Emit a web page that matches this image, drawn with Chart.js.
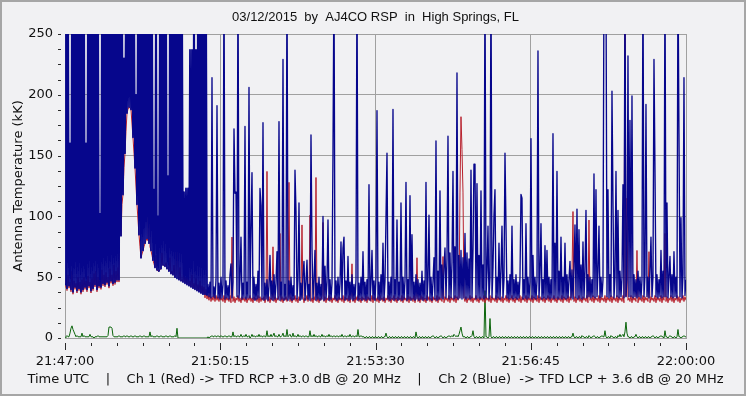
<!DOCTYPE html>
<html>
<head>
<meta charset="utf-8">
<script src="https://cdn.jsdelivr.net/npm/chart.js@4.4.1/dist/chart.umd.min.js"></script>
<style>
  html, body { margin: 0; padding: 0; background: #f1f1f3; }
  #wrap { width: 746px; height: 396px; position: relative; }
</style>
</head>
<body>
<div id="wrap"><canvas id="rsp"></canvas></div>
<script>
// AJ4CO RSP record, 03/12/2015, one reading every ~1.26 s starting 21:47:00

const SAMPLE_SEC = 1.256;
const timeTicks  = [0, 195, 390, 585, 780];   // seconds after 21:47:00
const tickLabels = ['21:47:00', '21:50:15', '21:53:30', '21:56:45', '22:00:00'];
const tempTicks  = [0, 50, 100, 150, 200, 250];

// Ch 2 (Blue) antenna temperature, kK (anything above 250 runs off the top)
const ch2Blue = [
  44,300,41,300,43,160,40,300,38,300,42,300,39,300,41,300,38,300,40,300,
  42,160,40,300,43,300,39,300,41,300,44,300,40,300,43,102,42,300,45,300,
  44,300,46,300,43,300,47,300,45,300,46,300,48,300,48,300,84,300,118,230,
  152,300,185,300,190,300,188,300,165,300,140,200,110,300,85,300,66,300,72,300,
  78,300,82,300,78,300,72,300,64,122,58,300,56,100,55,300,57,300,60,300,
  59,300,57,133,55,300,53,300,52,300,50,300,49,300,48,300,47,300,46,120,
  45,123,44,123,43,237,42,237,41,300,40,237,39,300,38,300,37,300,36,300,
  36,300,35,44,34,46,33,214,34,42,33,48,191,33,45,32,50,33,44,300,
  32,47,33,43,32,52,61,33,46,172,119,120,34,300,33,48,83,32,45,33,
  174,32,46,33,206,33,90,136,32,50,31,44,32,55,33,123,109,32,177,31,
  45,32,48,31,43,68,32,47,31,52,32,45,71,32,178,31,46,32,229,31,
  44,32,300,31,47,32,50,31,43,32,138,104,32,48,111,31,45,32,52,63,
  31,46,64,32,44,31,167,74,32,47,72,31,45,32,50,31,44,32,100,31,
  59,32,46,97,31,48,32,45,152,300,32,47,31,50,32,45,79,32,74,83,
  31,47,32,67,31,46,32,52,31,44,32,48,300,31,45,32,50,31,71,32,
  46,31,48,32,126,31,45,72,32,47,31,50,187,32,46,31,52,32,78,31,
  47,98,152,32,46,31,50,32,188,31,48,32,97,31,46,32,111,31,50,32,
  47,128,31,48,32,117,31,85,32,46,31,52,32,48,31,45,32,55,31,47,
  32,128,31,48,101,32,50,31,46,66,32,162,31,55,32,121,33,60,32,58,
  74,33,65,166,32,70,33,62,137,32,75,33,218,32,68,33,72,32,66,33,
  86,32,70,33,65,32,138,33,72,143,143,32,127,33,68,32,121,33,60,32,
  300,33,55,92,32,50,300,33,58,101,122,32,50,33,78,32,55,92,33,48,
  152,92,33,47,32,52,33,92,32,48,33,52,32,46,33,50,118,115,32,48,
  33,94,32,50,33,46,164,32,68,33,50,32,47,236,33,52,94,32,48,33,
  76,32,72,33,50,32,48,33,168,32,78,33,137,32,55,33,83,32,50,33,
  78,32,52,33,48,63,33,56,32,58,93,33,106,32,89,33,60,32,79,33,
  55,105,33,52,34,50,33,48,34,135,33,122,34,55,92,33,50,34,48,300,
  300,300,34,122,33,52,34,203,111,33,50,137,34,105,33,55,34,50,126,33,
  300,34,48,232,34,179,34,199,33,52,34,48,33,55,34,50,33,48,300,34,
  52,192,34,50,33,55,83,34,50,229,138,34,52,33,48,34,72,33,55,34,
  300,34,111,33,50,67,34,52,33,71,34,50,33,300,168,34,99,33,52,214,
  35,48
];

// Ch 1 (Red) antenna temperature, kK
const ch1Red = [
  42,48,39,52,41,46,38,55,36,47,40,45,37,50,39,46,36,48,38,50,
  40,47,38,51,41,46,37,49,39,53,42,55,38,50,41,47,40,56,43,52,
  42,54,44,50,41,57,45,52,43,60,44,55,46,58,46,236,84,110,118,140,
  152,170,185,188,190,189,188,176,165,152,140,125,110,97,85,75,66,69,72,75,
  78,80,82,80,300,75,72,68,64,61,58,68,56,55,55,56,57,70,60,60,
  59,62,57,58,55,66,53,55,52,60,50,52,250,50,48,58,47,48,46,55,
  45,50,44,56,43,47,42,52,41,45,40,49,39,44,38,47,37,43,36,42,
  33,40,32,36,31,37,30,34,31,36,30,35,31,34,30,36,31,33,30,35,
  29,34,31,33,30,35,29,83,30,34,29,33,31,35,30,33,29,34,31,33,
  30,34,29,33,31,35,30,33,29,34,31,33,30,35,29,34,30,33,31,34,
  29,33,137,30,34,29,33,31,75,30,34,29,33,31,35,86,30,34,29,33,
  31,34,30,33,128,30,34,29,33,31,35,30,33,29,34,31,33,93,34,29,
  33,31,35,30,34,101,30,33,29,34,31,132,30,34,29,33,31,35,95,30,
  34,29,33,31,35,30,34,29,33,31,35,30,33,29,34,31,33,30,35,29,
  34,31,33,30,35,29,34,61,30,33,29,34,31,35,30,33,29,34,31,33,
  30,35,29,34,31,33,30,35,29,34,31,33,30,34,29,35,31,33,30,34,
  29,33,31,35,30,34,29,33,31,35,30,33,29,34,31,33,30,35,29,34,
  31,33,30,35,29,34,31,33,30,35,29,34,66,30,33,29,35,31,34,30,
  33,29,35,31,34,30,33,29,34,31,33,30,35,29,34,31,33,30,67,29,
  34,31,33,30,35,29,34,31,33,30,35,29,34,31,33,120,182,155,120,33,
  30,34,29,33,31,35,30,34,29,33,31,35,30,33,29,34,31,33,30,35,
  29,34,31,33,30,35,29,34,31,33,30,35,29,34,31,33,30,34,29,33,
  31,35,30,34,29,33,31,35,30,33,29,34,31,33,30,35,29,34,31,33,
  30,35,29,34,31,33,30,35,29,34,31,33,30,35,29,34,31,33,30,34,
  29,33,31,35,30,34,29,33,31,35,30,33,29,34,31,33,30,35,29,34,
  31,33,30,35,29,34,31,52,104,30,34,29,33,31,35,30,33,29,34,31,
  33,30,35,29,97,31,33,30,35,29,34,31,33,30,35,29,34,31,33,30,
  35,29,34,31,33,30,35,29,34,31,33,30,35,29,34,31,33,30,35,29,
  300,34,115,31,33,30,35,29,34,31,33,30,72,29,34,31,33,30,35,29,
  34,31,33,30,71,29,34,31,33,30,35,29,34,31,33,30,35,29,34,31,
  86,30,34,29,33,31,35,30,34,29,33,31,35,30,34,29,33,31,35,30,
  34,31
];

// green trace near the floor, kK
const diffGreen = [
  0,1,2,1,1,4,8,10,7,5,3,1,2,1,1,1,1,4,1,2,
  1,1,1,1,1,3,1,1,1,0,1,1,1,2,1,1,1,1,1,1,
  1,1,1,2,9,9,9,8,2,1,1,1,1,1,2,1,1,1,1,2,
  1,1,2,1,1,1,2,1,1,1,2,1,1,1,1,2,1,1,1,2,
  1,1,1,1,1,5,1,2,1,1,1,1,2,1,1,1,2,1,1,1,
  1,2,1,1,1,2,1,1,1,1,2,1,8,0,0,0,0,0,0,0,
  0,0,0,0,0,0,0,0,0,0,0,0,0,0,0,0,0,0,0,0,
  0,0,0,1,0,1,1,2,1,1,2,1,1,2,1,1,2,1,1,1,
  2,1,1,1,2,1,1,1,5,1,2,1,1,2,1,1,3,1,1,2,
  1,3,1,1,2,0,1,3,1,2,1,1,2,1,3,1,2,1,1,2,
  1,1,6,1,2,1,3,1,2,4,1,2,1,1,3,1,1,2,4,1,
  2,1,7,1,2,3,1,1,4,1,2,1,1,3,1,2,1,1,2,1,
  1,2,1,1,1,6,1,2,1,3,1,2,1,1,2,1,1,3,1,2,
  1,1,2,1,3,1,2,1,1,2,1,1,2,1,1,2,1,3,1,1,
  2,1,1,2,1,3,1,1,2,1,1,2,1,7,1,1,2,1,1,1,
  0,1,1,0,1,1,0,1,1,0,1,1,0,1,1,0,1,1,0,1,
  1,4,1,0,1,1,0,1,1,0,1,1,0,1,1,0,1,1,0,1,
  1,0,1,1,0,1,1,0,1,1,0,5,1,0,1,1,0,1,1,0,
  1,1,0,1,1,0,1,1,2,1,0,1,1,0,1,1,2,1,0,1,
  1,0,1,1,2,1,1,2,1,3,2,1,2,1,3,6,9,4,1,1,
  1,0,1,1,0,1,1,2,6,1,0,1,1,0,1,1,0,1,1,0,
  39,1,1,0,1,16,1,0,1,1,0,1,1,0,1,1,0,1,1,0,
  1,1,0,1,1,0,1,1,0,1,1,0,1,1,0,1,1,0,1,1,
  0,1,1,0,1,1,0,1,1,0,1,1,0,1,1,0,1,1,0,1,
  1,0,1,1,0,1,1,0,1,1,0,1,1,0,1,1,0,1,1,0,
  1,1,0,1,1,0,1,1,4,1,0,1,1,0,1,1,0,2,1,1,
  0,1,1,0,2,1,0,1,1,2,1,0,1,1,0,1,1,2,1,1,
  6,1,0,1,1,0,2,1,1,0,1,1,0,2,1,3,1,2,3,1,
  5,13,4,1,1,0,1,1,0,1,1,3,1,0,1,1,0,1,1,0,
  1,1,0,1,1,0,1,1,2,1,0,1,1,0,1,1,2,1,1,0,
  6,1,1,0,1,2,1,1,0,1,1,0,1,7,1,1,0,1,1,2,
  1,1
];

const BURST_END = 178;   // seconds; the dense part is drawn with a heavier pen
const caption = 'Time UTC    |    Ch 1 (Red) -> TFD RCP +3.0 dB @ 20 MHz    |    Ch 2 (Blue)  -> TFD LCP + 3.6 dB @ 20 MHz';

const toPoints = arr => arr.map((v, i) => ({ x: i * SAMPLE_SEC, y: v }));

Chart.defaults.font.family = 'DejaVu Sans';
Chart.defaults.font.size = 13;
Chart.defaults.color = '#111';

const GRID = '#a0a0a0';

// background, outer frame and the small tick marks (minor ones too)
const framePlugin = {
  id: 'frame',
  beforeDraw(chart) {
    const { ctx, width, height } = chart;
    ctx.save();
    ctx.fillStyle = '#f1f1f3';
    ctx.fillRect(0, 0, width, height);
    ctx.restore();
  },
  afterDraw(chart) {
    const { ctx, width, height, chartArea: a, scales: { x, y } } = chart;
    const xMinor = (timeTicks[1] - timeTicks[0]) / 6;
    const yMinor = (tempTicks[1] - tempTicks[0]) / 4;
    ctx.save();
    ctx.strokeStyle = '#2a2a2a';
    ctx.lineWidth = 1;
    ctx.beginPath();
    for (let k = 0; k * xMinor <= x.max + 0.01; k++) {
      const px = Math.round(x.getPixelForValue(k * xMinor)) + 0.5;
      ctx.moveTo(px, a.bottom + 5);
      ctx.lineTo(px, a.bottom + (k % 6 === 0 ? 12 : 8));
    }
    for (let k = 0; k * yMinor <= y.max + 0.01; k++) {
      const py = Math.round(y.getPixelForValue(k * yMinor)) + 0.5;
      ctx.moveTo(a.left - 7, py);
      ctx.lineTo(a.left - 4, py);
    }
    ctx.stroke();
    ctx.strokeStyle = '#a6a6a6';
    ctx.lineWidth = 2;
    ctx.strokeRect(1, 1, width - 2, height - 2);
    ctx.restore();
  }
};

const trace = (label, values, color, width) => ({
  label,
  data: toPoints(values),
  borderColor: color,
  borderWidth: width,
  borderJoinStyle: 'round',
  pointRadius: 0,
  clip: 0
});

const blueTrace = trace('Ch 2 (Blue)', ch2Blue, '#06068c', 1.35);
blueTrace.segment = { borderWidth: c => (c.p0.parsed.x < BURST_END ? 1.8 : 1.35) };

new Chart(document.getElementById('rsp'), {
  type: 'line',
  data: {
    datasets: [
      blueTrace,
      trace('Ch 1 (Red)', ch1Red, '#b8222e', 1),
      trace('Green', diffGreen, '#0b650b', 1)
    ]
  },
  options: {
    responsive: true,
    maintainAspectRatio: false,
    animation: false,
    events: [],
    parsing: false,
    layout: { padding: { left: 5, right: 0, top: 0, bottom: 0 } },
    plugins: {
      legend: { display: false },
      tooltip: { enabled: false },
      title: {
        display: true,
        text: '03/12/2015  by  AJ4CO RSP  in  High Springs, FL',
        color: '#111',
        font: { family: 'Liberation Sans', size: 13, weight: 'normal' },
        padding: { top: 10, bottom: 8.4 }
      },
      subtitle: {
        display: true,
        position: 'bottom',
        text: caption,
        color: '#111',
        font: { family: 'DejaVu Sans', size: 13, weight: 'normal' },
        padding: { top: 0, bottom: 8.7 }
      }
    },
    scales: {
      x: {
        type: 'linear',
        min: timeTicks[0],
        max: timeTicks[timeTicks.length - 1],
        afterBuildTicks: s => { s.ticks = timeTicks.map(v => ({ value: v })); },
        afterFit: s => { s.height = 33.7; },
        ticks: {
          callback: (v, i) => tickLabels[i],
          autoSkip: false,
          maxRotation: 0,
          padding: 16,
          color: '#111'
        },
        grid: { color: GRID, drawTicks: false },
        border: { color: GRID }
      },
      y: {
        min: tempTicks[0],
        max: tempTicks[tempTicks.length - 1],
        afterBuildTicks: s => { s.ticks = tempTicks.map(v => ({ value: v })); },
        afterFit: s => { s.width = 60; },
        ticks: { padding: 12, color: '#111' },
        grid: { color: GRID, drawTicks: false },
        border: { color: GRID },
        title: {
          display: true,
          text: 'Antenna Temperature (kK)',
          color: '#111',
          padding: { top: 6, bottom: 0 }
        }
      },
      yr: {
        position: 'right',
        display: true,
        afterFit: s => { s.width = 60; },
        ticks: { display: false },
        grid: { display: false, drawTicks: false },
        border: { display: false }
      }
    }
  },
  plugins: [framePlugin]
});
</script>
</body>
</html>
